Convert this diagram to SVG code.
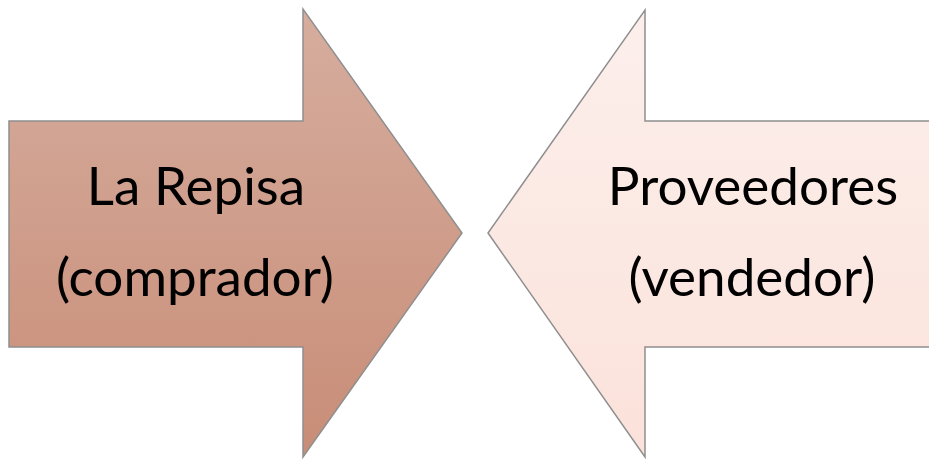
<svg xmlns="http://www.w3.org/2000/svg" width="929" height="459" viewBox="0 0 929 459">
<style>
.lbl{font-family:Lato,"Open Sans","Liberation Sans",sans-serif;font-size:53px;fill:#000;text-anchor:middle}
.arr{stroke:#8f8f8f;stroke-width:1.5}
</style>
<defs>
<linearGradient id="gL" x1="0" y1="0" x2="0" y2="1">
<stop offset="0" stop-color="#d6ad9e"/>
<stop offset="1" stop-color="#c88d77"/>
</linearGradient>
<linearGradient id="gR" x1="0" y1="0" x2="0" y2="1">
<stop offset="0" stop-color="#fcefec"/>
<stop offset="1" stop-color="#fbe2da"/>
</linearGradient>
</defs>
<rect width="929" height="459" fill="#fff"/>
<g id="node-buyer">
<polygon class="arr" fill="url(#gL)" points="9,121 303,121 303,9 462,233 303,457 303,347 9,347"/>
<text class="lbl" x="196" y="205">La Repisa</text>
<text class="lbl" x="195" y="296">(comprador)</text>
</g>
<g id="node-seller">
<polygon class="arr" fill="url(#gR)" points="935,121 645,121 645,10 488,233 645,457 645,347 935,347"/>
<text class="lbl" x="753" y="205">Proveedores</text>
<text class="lbl" x="752" y="296">(vendedor)</text>
</g>
<g id="connectors"></g>
</svg>
